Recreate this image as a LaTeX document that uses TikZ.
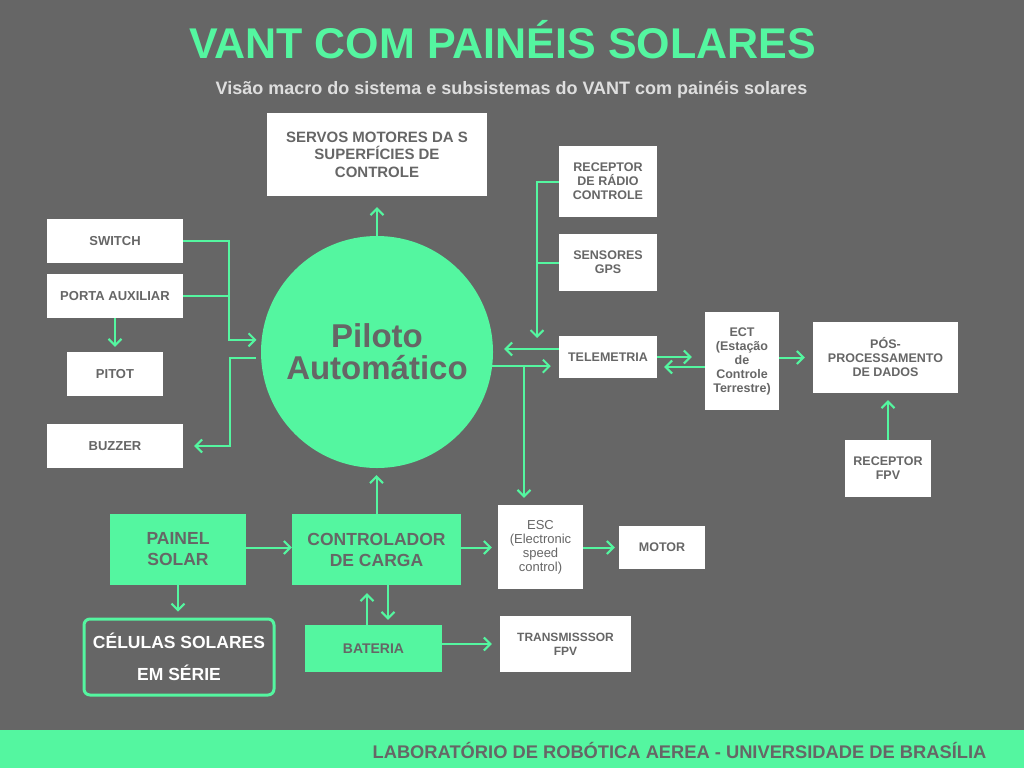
\documentclass[tikz,border=0pt]{standalone}
\usepackage{fontspec}
\setmainfont{Liberation Sans}
\usetikzlibrary{arrows.meta}
\definecolor{bg}{RGB}{102,102,102}
\definecolor{sgreen}{RGB}{84,246,160}
\definecolor{tgray}{RGB}{102,102,102}
\definecolor{subgray}{RGB}{222,222,222}
\begin{document}
\begin{tikzpicture}[x=1pt,y=-1pt,
 wbox/.style={fill=white, inner sep=0pt, align=center, text=tgray, font=\bfseries\fontsize{12.5}{14}\selectfont},
 gbox/.style={fill=sgreen, inner sep=0pt, align=center, text=tgray, font=\bfseries\fontsize{17.5}{21}\selectfont},
 gline/.style={draw=sgreen, line width=2pt},
 conn/.style={gline, -{Straight Barb[length=6.5pt,width=13pt]}},
]
\fill[bg] (0,0) rectangle (1024,768);
\fill[sgreen] (0,730) rectangle (1024,768);

% titles
\node[anchor=base, text=sgreen, font=\bfseries\fontsize{43}{45}\selectfont, inner sep=0] (title) at (502.5,59) {VANT COM PAINÉIS SOLARES};
\node[anchor=base, text=subgray, font=\bfseries\fontsize{18}{20}\selectfont, inner sep=0] (sub) at (511.5,94) {Visão macro do sistema e subsistemas do VANT com painéis solares};
\node[anchor=base, text=tgray, font=\bfseries\fontsize{18.3}{20}\selectfont, inner sep=0] (foot) at (679.5,758) {LABORATÓRIO DE ROBÓTICA AEREA - UNIVERSIDADE DE BRASÍLIA};

% central node
\node[circle, fill=sgreen, minimum size=232pt, inner sep=0pt, align=center, text=tgray, font=\bfseries\fontsize{33}{32}\selectfont] (pilot) at (377,352) {Piloto\\Automático};

% white boxes
\node[wbox, minimum width=220pt, minimum height=83pt, font=\bfseries\fontsize{15}{17.5}\selectfont] (servos) at (377,154.5) {SERVOS MOTORES DA S\\SUPERFÍCIES DE\\CONTROLE};
\node[wbox, minimum width=136pt, minimum height=44pt, font=\bfseries\fontsize{13}{15}\selectfont] (sw) at (115,241) {SWITCH};
\node[wbox, minimum width=136pt, minimum height=44pt, font=\bfseries\fontsize{13}{15}\selectfont] (pa) at (115,296) {PORTA AUXILIAR};
\node[wbox, minimum width=96pt, minimum height=44pt, font=\bfseries\fontsize{13}{15}\selectfont] (pitot) at (115,374) {PITOT};
\node[wbox, minimum width=136pt, minimum height=44pt, font=\bfseries\fontsize{13}{15}\selectfont] (bz) at (115,446) {BUZZER};

\node[wbox, minimum width=98pt, minimum height=71pt] (rc) at (608,181.5) {RECEPTOR\\DE RÁDIO\\CONTROLE};
\node[wbox, minimum width=98pt, minimum height=57pt] (gps) at (608,262.5) {SENSORES\\GPS};
\node[wbox, minimum width=98pt, minimum height=42pt] (tel) at (608,357) {TELEMETRIA};
\node[wbox, minimum width=74pt, minimum height=98pt] (ect) at (742,361) {ECT\\(Estação\\de\\Controle\\Terrestre)};
\node[wbox, minimum width=145pt, minimum height=71pt] (pos) at (885.5,357.5) {PÓS-\\PROCESSAMENTO\\DE DADOS};
\node[wbox, minimum width=86pt, minimum height=57pt] (rfpv) at (888,468.5) {RECEPTOR\\FPV};

\node[wbox, minimum width=85pt, minimum height=84pt, font=\fontsize{13}{14}\selectfont] (esc) at (540.5,547) {ESC\\(Electronic\\speed\\control)};
\node[wbox, minimum width=86pt, minimum height=43pt] (motor) at (662,547.5) {MOTOR};
\node[wbox, minimum width=131pt, minimum height=56pt, font=\bfseries\fontsize{12}{14}\selectfont] (trans) at (565.5,644) {TRANSMISSSOR\\FPV};

% green boxes
\node[gbox, minimum width=136pt, minimum height=71pt] (ps) at (178,549.5) {PAINEL\\SOLAR};
\node[gbox, minimum width=169pt, minimum height=71pt] (ctrl) at (376.5,549.5) {CONTROLADOR\\DE CARGA};
\node[gbox, minimum width=137pt, minimum height=47pt, font=\bfseries\fontsize{14}{16}\selectfont] (bat) at (373.5,648.5) {BATERIA};
\node[draw=sgreen, line width=3pt, rounded corners=6pt, minimum width=190pt, minimum height=76pt, inner sep=0pt, align=center, text=white, font=\bfseries\fontsize{17.5}{31.5}\selectfont] (cel) at (179,657) {CÉLULAS SOLARES\\EM SÉRIE};

% junction coordinates
\coordinate (jx) at (229,0);
\coordinate (jb) at (230,0);
\coordinate (jr) at (537,338);
\coordinate (jd) at (524,0);

% left connectors
\draw[conn, shorten >=5pt] (sw.east) -- (sw.east -| jx) |- (pilot.174.6);
\draw[gline] (pa.east) -- (pa.east -| jx);
\draw[conn, shorten >=5pt] (pa.south) -- (pitot.north);
\draw[conn, shorten <=5pt, shorten >=11pt] (pilot.183.5) -- (pilot.183.5 -| jb) |- (bz.east);
\draw[conn, shorten >=11pt] (pilot.north) -- (servos.south);

% right connectors
\draw[conn] (rc.west) -| (jr);
\draw[gline] (gps.west) -- (gps.west -| jr);
\draw[conn, shorten >=11pt] ([yshift=8pt]tel.west) -- ([yshift=8pt]tel.west -| pilot.east);
\draw[conn, shorten >=8pt] (pilot.-7) -- (pilot.-7 -| tel.west);
\draw[conn, shorten >=7pt] (pilot.-7 -| jd) -- (jd |- esc.north);
\draw[conn, shorten >=13pt] (tel.east) -- (tel.east -| ect.west);
\draw[conn, shorten >=7pt] ([yshift=-10pt]tel.east -| ect.west) -- ([yshift=-10pt]tel.east);
\draw[conn, shorten >=8pt] (ect.east |- pos.west) -- (pos.west);
\draw[conn, shorten >=7pt] (rfpv.north) -- (rfpv.north |- pos.south);

% bottom connectors
\draw[conn] ([yshift=2pt]ps.east) -- ([yshift=2pt]ctrl.west);
\draw[conn, shorten >=7pt] (ctrl.north) -- (ctrl.north |- pilot.south);
\draw[conn, shorten >=6pt] ([yshift=2pt]ctrl.east) -- ([yshift=2pt]ctrl.east -| esc.west);
\draw[conn, shorten >=4pt] (esc.east |- motor.west) -- (motor.west);
\draw[conn, shorten >=6pt] (ps.south) -- (ps.south |- cel.north);
\draw[conn, shorten >=8pt] ([xshift=-6.5pt]bat.north) -- ([xshift=-6.5pt]bat.north |- ctrl.south);
\draw[conn, shorten >=5pt] ([xshift=14.5pt]bat.north |- ctrl.south) -- ([xshift=14.5pt]bat.north);
\draw[conn, shorten >=8pt] (bat.east |- trans.west) -- (trans.west);
\end{tikzpicture}
\end{document}
